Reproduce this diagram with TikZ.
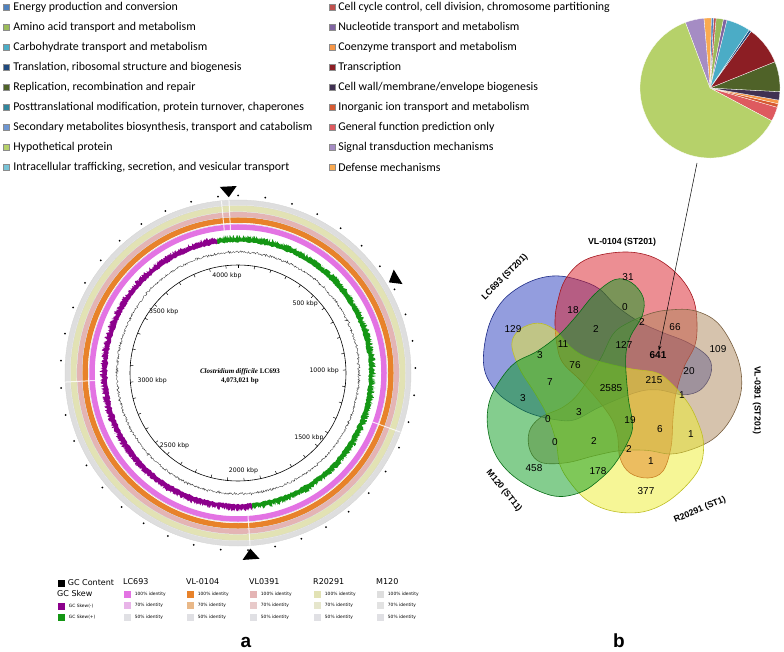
\documentclass[tikz,border=0pt]{standalone}
\usepackage{fontspec}
\setmainfont{Liberation Sans}
\newfontfamily\cogfont{Carlito}
\newfontfamily\cgvfont{DejaVu Sans}
\newfontfamily\titlefont{Liberation Serif}
\usetikzlibrary{positioning,arrows.meta}

% COG category colours
\definecolor{cogC}{RGB}{79,129,189}
\definecolor{cogE}{RGB}{155,187,89}
\definecolor{cogG}{RGB}{75,172,198}
\definecolor{cogJ}{RGB}{31,73,125}
\definecolor{cogL}{RGB}{79,98,40}
\definecolor{cogO}{RGB}{49,133,156}
\definecolor{cogQ}{RGB}{110,150,210}
\definecolor{cogHP}{RGB}{182,209,106}
\definecolor{cogU}{RGB}{120,195,215}
\definecolor{cogD}{RGB}{192,80,77}
\definecolor{cogF}{RGB}{128,100,162}
\definecolor{cogH}{RGB}{247,150,70}
\definecolor{cogK}{RGB}{140,30,36}
\definecolor{cogM}{RGB}{64,49,82}
\definecolor{cogP}{RGB}{214,90,50}
\definecolor{cogR}{RGB}{222,90,95}
\definecolor{cogT}{RGB}{165,140,196}
\definecolor{cogV}{RGB}{250,170,80}
% identity rings
\definecolor{idLC}{RGB}{227,115,227}
\definecolor{idLCb}{RGB}{232,180,232}
\definecolor{idVLa}{RGB}{232,130,42}
\definecolor{idVLab}{RGB}{233,184,136}
\definecolor{idVLb}{RGB}{228,180,180}
\definecolor{idVLbb}{RGB}{232,202,202}
\definecolor{idR}{RGB}{226,226,180}
\definecolor{idRb}{RGB}{230,230,204}
\definecolor{idM}{RGB}{222,222,222}
\definecolor{idMb}{RGB}{226,226,226}
\definecolor{idlow}{RGB}{224,224,228}
\definecolor{skewneg}{RGB}{140,0,140}
\definecolor{skewpos}{RGB}{20,150,20}
% venn sets
\definecolor{vblue}{RGB}{40,60,190}
\definecolor{vred}{RGB}{218,30,40}
\definecolor{vtan}{RGB}{173,136,91}
\definecolor{vyellow}{RGB}{237,237,46}
\definecolor{vgreen}{RGB}{10,155,30}

\tikzset{
  cogtext/.style={anchor=west, inner sep=0pt, font=\cogfont\fontsize{11.9}{12}\selectfont},
  cogbox/.style={draw=black!45, line width=0.2pt, minimum size=6pt, inner sep=0pt},
  kbp/.style={font=\cgvfont\fontsize{6.2}{7}\selectfont, inner sep=0pt},
  keyhead/.style={anchor=west, inner sep=0pt, font=\cgvfont\fontsize{8}{9}\selectfont},
  keysmall/.style={anchor=west, inner sep=0pt, font=\cgvfont\fontsize{4.4}{5}\selectfont},
  keybox/.style={minimum size=7pt, inner sep=0pt},
  lobe/.style={fill opacity=0.5, line width=0.6pt},
  vnum/.style={font=\fontsize{10}{11}\selectfont, inner sep=0.5pt},
  vset/.style={font=\bfseries\fontsize{8.8}{10}\selectfont, inner sep=0pt},
  panel/.style={font=\bfseries\fontsize{19}{20}\selectfont, inner sep=0pt, anchor=base}
}

\newcommand{\vennlobe}{plot[smooth cycle, tension=0.6] coordinates {(19,131) (-8,128) (-28,120) (-43,103) (-50,83) (-53,63) (-51,38) (-45,20) (-25,0) (0,-30) (9,-50) (12,-75) (22,-90) (40,-95) (55,-88) (63,-64) (65,-35) (68,-10) (76,16) (87,38) (89,60) (86,82) (76,101) (60,117) (42,127)}}

\begin{document}
\begin{tikzpicture}[x=1pt,y=1pt]
\useasboundingbox (0,0) rectangle (784,-652);

% COG legend
\foreach \lab/\col [count=\i] in {Energy production and conversion/cogC,
  Amino acid transport and metabolism/cogE,
  Carbohydrate transport and metabolism/cogG,
  {Translation, ribosomal structure and biogenesis}/cogJ,
  {Replication, recombination and repair}/cogL,
  {Posttranslational modification, protein turnover, chaperones}/cogO,
  {Secondary metabolites biosynthesis, transport and catabolism}/cogQ,
  Hypothetical protein/cogHP,
  {Intracellular trafficking, secretion, and vesicular transport}/cogU}
{
  \node[cogbox, fill=\col] (keyL\i) at (6,{-7-20*(\i-1)}) {};
  \node[cogtext, right=4pt of keyL\i] (txtL\i) {\lab};
}
\foreach \lab/\col [count=\i] in {{Cell cycle control, cell division, chromosome partitioning}/cogD,
  Nucleotide transport and metabolism/cogF,
  Coenzyme transport and metabolism/cogH,
  Transcription/cogK,
  {Cell wall/membrane/envelope biogenesis}/cogM,
  Inorganic ion transport and metabolism/cogP,
  General function prediction only/cogR,
  Signal transduction mechanisms/cogT,
  Defense mechanisms/cogV}
{
  \node[cogbox, fill=\col] (keyR\i) at (332,{-7-20*(\i-1)}) {};
  \node[cogtext, right=3pt of keyR\i] (txtR\i) {\lab};
}

% pie of COG categories
\foreach \from/\to/\col in {-28/-16/cogR, -16/-13/cogP, -13/-10/cogH, -10/-3/cogM,
  -3/22/cogL, 22/54/cogK, 54/56/cogJ, 56/76/cogG, 76/79/cogF, 79/85/cogE,
  85/87/cogD, 87/89/cogC, 89/95/cogV, 95/110.6/cogT, 110.6/332/cogHP}
  \fill[\col, draw=white, line width=0.3pt] (710,-88) -- ++(\from:70) arc[start angle=\from, end angle=\to, radius=70] -- cycle;
\coordinate (pietip) at (697,-163);

% circular genome map
\begin{scope}[shift={(238,-373)}]
  \draw[idLC, line width=5.5pt] (0,0) circle[radius=146];
  \draw[idVLa, line width=5.5pt] (0,0) circle[radius=153];
  \draw[idVLb, line width=5pt] (0,0) circle[radius=158.5];
  \draw[idR, line width=6pt] (0,0) circle[radius=164.5];
  \draw[idM, line width=5pt] (0,0) circle[radius=170.5];
  \foreach \r in {149.2,155.9,161.2,167.6,173.1}
    \draw[black!20, line width=0.25pt] (0,0) circle[radius=\r];
  \foreach \g in {93,95.5,-20,-86,183}
    \draw[white, line width=1pt, opacity=0.8] (\g:143) -- (\g:173);
  % GC skew
  \pgfmathsetseed{11}
  \fill[skewpos] plot[domain=-84:99, samples=700] (\x:{134+4.4*rnd}) -- plot[domain=99:-84, samples=300] (\x:{130.2+1.6*rnd}) -- cycle;
  \fill[skewneg] plot[domain=99:276, samples=700] (\x:{134.5+4*rnd}) -- plot[domain=276:99, samples=300] (\x:{130.2+1.6*rnd}) -- cycle;
  % GC content
  \draw[black!75, line width=0.35pt] plot[domain=0:360, samples=1000] (\x:{121+(1+2*rnd*rnd*rnd)*(2*rnd-1)});
  % axis with ticks
  \draw[line width=0.6pt] (0,0) circle[radius=108];
  \foreach \k in {0,...,40}
    \draw[line width=0.5pt] ({90-\k*8.8386}:108) -- ({90-\k*8.8386}:105);
  \foreach \kb/\k in {500/5,1000/10,1500/15,2000/20,2500/25,3000/30,3500/35,4000/40}{
    \pgfmathsetmacro\ang{mod(90-\k*8.8386+360,360)}
    \node[kbp, anchor=\ang] (kb\kb) at (\ang:101) {\kb\ kbp};
  }
  \node[align=center, font=\titlefont\bfseries\fontsize{7}{8.7}\selectfont, inner sep=0pt] (title) at (2,-3.5)
    {\textit{Clostridium difficile} LC693\\4,073,021 bp};
  % outer marks
  \foreach \k in {0,...,40}
    \fill ({90-\k*8.8386}:177.5) circle[radius=1];
  \foreach \a in {93,31,-86}
    \fill (\a:176) -- ({\a+2.6}:187) -- ({\a-2.6}:187) -- cycle;
\end{scope}

% key of the map
\node[keybox, fill=black] (kGC) at (61,-583) {};
\node[keyhead, right=3pt of kGC] (kGCtxt) {GC Content};
\node[keyhead] (kSkew) at (57,-594) {GC Skew};
\node[keybox, fill=skewneg] (kNeg) at (61,-606) {};
\node[keysmall, right=4pt of kNeg] (kNegtxt) {GC Skew(-)};
\node[keybox, fill=skewpos] (kPos) at (61,-617) {};
\node[keysmall, right=4pt of kPos] (kPostxt) {GC Skew(+)};
\foreach \name/\x/\ca/\cb [count=\j] in {LC693/123/idLC/idLCb, VL-0104/186/idVLa/idVLab,
  VL0391/249/idVLb/idVLbb, R20291/313/idR/idRb, M120/376/idM/idMb}
{
  \node[keyhead] (head\j) at (\x,-582) {\name};
  \node[keybox, fill=\ca] (hi\j) at (\x+4,-594) {};
  \node[keybox, fill=\cb] (mid\j) at (\x+4,-605.5) {};
  \node[keybox, fill=idlow] (lo\j) at (\x+4,-617) {};
  \node[keysmall, right=4pt of hi\j] {100\% identity};
  \node[keysmall, right=4pt of mid\j] {70\% identity};
  \node[keysmall, right=4pt of lo\j] {50\% identity};
}

% five-set Venn
\begin{scope}[shift={(608,-383)}]
  \draw[lobe, fill=vblue, draw=vblue!70!black, rotate=72] \vennlobe;
  \draw[lobe, fill=vred, draw=vred!75!black] \vennlobe;
  \draw[lobe, fill=vtan, draw=vtan!70!black, rotate=-72] \vennlobe;
  \draw[lobe, fill=vyellow, draw=vyellow!80!black, rotate=-144] \vennlobe;
  \draw[lobe, fill=vgreen, draw=vgreen!70!black, rotate=144] \vennlobe;
\end{scope}

\node[vnum] (n31) at (628,-277) {31};
\node[vnum] (n18) at (573,-310) {18};
\node[vnum] (n129) at (513,-329) {129};
\node[vnum] (n0a) at (625,-307) {0};
\node[vnum] (n2a) at (642,-322) {2};
\node[vnum] (n66) at (675,-327) {66};
\node[vnum] (n2b) at (596,-329) {2};
\node[vnum] (n11) at (563,-344) {11};
\node[vnum] (n127) at (624,-345) {127};
\node[vnum, font=\bfseries\fontsize{10}{11}\selectfont] (n641) at (658,-355) {641};
\node[vnum] (n109) at (718,-349) {109};
\node[vnum] (n3a) at (540,-355) {3};
\node[vnum] (n76) at (575,-365) {76};
\node[vnum] (n20) at (689,-371) {20};
\node[vnum] (n215) at (654,-380) {215};
\node[vnum] (n7) at (550,-382) {7};
\node[vnum] (n2585) at (611,-388) {2585};
\node[vnum] (n1a) at (682,-395) {1};
\node[vnum] (n3b) at (523,-398) {3};
\node[vnum] (n3c) at (579,-412) {3};
\node[vnum] (n19) at (630,-420) {19};
\node[vnum] (n0b) at (548,-419) {0};
\node[vnum] (n6) at (660,-429) {6};
\node[vnum] (n1b) at (691,-434) {1};
\node[vnum] (n0c) at (555,-442) {0};
\node[vnum] (n2c) at (594,-441) {2};
\node[vnum] (n2d) at (629,-449) {2};
\node[vnum] (n1c) at (651,-461) {1};
\node[vnum] (n458) at (534,-468) {458};
\node[vnum] (n178) at (598,-471) {178};
\node[vnum] (n377) at (646,-491) {377};

\node[vset] (setVLa) at (622,-242) {VL-0104 (ST201)};
\node[vset, rotate=45] (setLC) at (505,-277) {LC693 (ST201)};
\node[vset, rotate=-90] (setVLb) at (757,-400) {VL-0391 (ST201)};
\node[vset, rotate=23] (setR) at (700,-510) {R20291 (ST1)};
\node[vset, rotate=-51] (setM) at (504,-491) {M120 (ST11)};

\draw[-{Stealth[length=5pt,width=3pt]}, line width=0.5pt] (pietip) -- (n641);

\node[panel] (panela) at (246,-647) {a};
\node[panel] (panelb) at (619,-647) {b};
\end{tikzpicture}
\end{document}
